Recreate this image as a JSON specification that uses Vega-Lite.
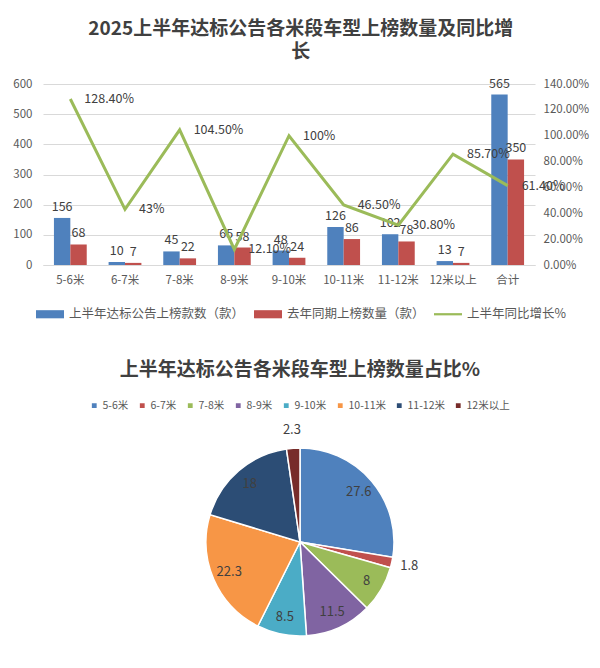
{
  "$schema": "https://vega.github.io/schema/vega-lite/v6.json",
  "padding": {"left": 12, "top": 19, "right": 5, "bottom": 5},
  "background": "#ffffff",
  "config": {
    "font": "Noto Sans CJK SC",
    "view": {"stroke": null},
    "axis": {"labelColor": "#595959", "labelFontSize": 11.5}
  },
  "spacing": 40,
  "resolve": {"scale": {"color": "independent"}, "legend": {"color": "independent"}},
  "vconcat": [
    {
      "width": 492,
      "height": 181,
      "title": {
        "text": ["2025上半年达标公告各米段车型上榜数量及同比增", "长"],
        "fontSize": 19,
        "fontWeight": "bold",
        "color": "#404040",
        "frame": "bounds",
        "anchor": "middle",
        "lineHeight": 23,
        "offset": 16
      },
      "data": {
        "values": [
          {"米段": "5-6米", "上半年达标公告上榜款数（款）": 156, "去年同期上榜数量（款）": 68, "yoy": 128.4, "yoyLabel": "128.40%"},
          {"米段": "6-7米", "上半年达标公告上榜款数（款）": 10, "去年同期上榜数量（款）": 7, "yoy": 43, "yoyLabel": "43%"},
          {"米段": "7-8米", "上半年达标公告上榜款数（款）": 45, "去年同期上榜数量（款）": 22, "yoy": 104.5, "yoyLabel": "104.50%"},
          {"米段": "8-9米", "上半年达标公告上榜款数（款）": 65, "去年同期上榜数量（款）": 58, "yoy": 12.1, "yoyLabel": "12.10%"},
          {"米段": "9-10米", "上半年达标公告上榜款数（款）": 48, "去年同期上榜数量（款）": 24, "yoy": 100, "yoyLabel": "100%"},
          {"米段": "10-11米", "上半年达标公告上榜款数（款）": 126, "去年同期上榜数量（款）": 86, "yoy": 46.5, "yoyLabel": "46.50%"},
          {"米段": "11-12米", "上半年达标公告上榜款数（款）": 102, "去年同期上榜数量（款）": 78, "yoy": 30.8, "yoyLabel": "30.80%"},
          {"米段": "12米以上", "上半年达标公告上榜款数（款）": 13, "去年同期上榜数量（款）": 7, "yoy": 85.7, "yoyLabel": "85.70%"},
          {"米段": "合计", "上半年达标公告上榜款数（款）": 565, "去年同期上榜数量（款）": 350, "yoy": 61.4, "yoyLabel": "61.40%"}
        ]
      },
      "encoding": {
        "x": {
          "field": "米段",
          "type": "nominal",
          "sort": null,
          "scale": {"paddingInner": 0.4, "paddingOuter": 0.2},
          "axis": {
            "title": null,
            "labelAngle": 0,
            "ticks": false,
            "domainColor": "#d9d9d9",
            "labelPadding": 9
          }
        }
      },
      "layer": [
        {
          "transform": [
            {"fold": ["上半年达标公告上榜款数（款）", "去年同期上榜数量（款）"], "as": ["系列", "数量"]}
          ],
          "encoding": {
            "xOffset": {
              "field": "系列",
              "type": "nominal",
              "sort": ["上半年达标公告上榜款数（款）", "去年同期上榜数量（款）"],
              "scale": {"paddingInner": 0, "paddingOuter": 0}
            },
            "y": {
              "field": "数量",
              "type": "quantitative",
              "scale": {"domain": [0, 600]},
              "axis": {
                "title": null,
                "values": [0, 100, 200, 300, 400, 500, 600],
                "ticks": false,
                "domain": false,
                "gridColor": "#d9d9d9",
                "labelPadding": 11
              }
            }
          },
          "layer": [
            {
              "mark": {"type": "bar"},
              "encoding": {
                "color": {
                  "field": "系列",
                  "type": "nominal",
                  "scale": {
                    "domain": ["上半年达标公告上榜款数（款）", "去年同期上榜数量（款）", "上半年同比增长%"],
                    "range": ["#4F81BD", "#C0504D", "#9BBB59"]
                  },
                  "legend": {
                    "title": null,
                    "orient": "none",
                    "legendX": -7,
                    "legendY": 216,
                    "direction": "horizontal",
                    "columns": 3,
                    "labelFontSize": 12.5,
                    "labelColor": "#595959",
                    "labelLimit": 300,
                    "columnPadding": 9,
                    "labelOffset": 5,
                    "symbolSize": 784,
                    "symbolStrokeWidth": 0,
                    "encode": {
                      "symbols": {
                        "update": {
                          "shape": {"signal": "datum.value === '上半年同比增长%' ? 'M-1,-0.08L1,-0.08L1,0.08L-1,0.08Z' : 'M-1,-0.29L1,-0.29L1,0.29L-1,0.29Z'"},
                          "fill": {"signal": "datum.value === '去年同期上榜数量（款）' ? '#C0504D' : datum.value === '上半年同比增长%' ? '#9BBB59' : '#4F81BD'"},
                          "opacity": {"value": 1},
                          "strokeWidth": {"value": 0}
                        }
                      }
                    }
                  }
                }
              }
            },
            {
              "mark": {"type": "text", "baseline": "bottom", "dy": -4, "fontSize": 12.5, "color": "#404040"},
              "encoding": {
                "text": {"field": "数量", "type": "quantitative"}
              }
            }
          ]
        },
        {
          "encoding": {
            "y": {
              "field": "yoy",
              "type": "quantitative",
              "scale": {"domain": [0, 140]},
              "axis": {
                "orient": "right",
                "title": null,
                "values": [0, 20, 40, 60, 80, 100, 120, 140],
                "labelExpr": "format(datum.value, '.2f') + '%'",
                "grid": false,
                "ticks": false,
                "domain": false,
                "labelPadding": 8
              }
            }
          },
          "layer": [
            {
              "mark": {"type": "line", "strokeWidth": 3},
              "encoding": {
                "color": {"datum": "上半年同比增长%"}
              }
            },
            {
              "mark": {"type": "text", "align": "left", "baseline": "middle", "dx": 14, "fontSize": 12.5, "color": "#404040"},
              "encoding": {
                "text": {"field": "yoyLabel", "type": "nominal"}
              }
            }
          ]
        }
      ],
      "resolve": {"scale": {"y": "independent"}}
    },
    {
      "width": 514,
      "height": 196,
      "title": {
        "text": "上半年达标公告各米段车型上榜数量占比%",
        "fontSize": 19,
        "fontWeight": "bold",
        "color": "#404040",
        "frame": "bounds",
        "anchor": "middle",
        "offset": 20
      },
      "data": {
        "values": [
          {"米段": "5-6米", "占比": 27.6},
          {"米段": "6-7米", "占比": 1.8},
          {"米段": "7-8米", "占比": 8},
          {"米段": "8-9米", "占比": 11.5},
          {"米段": "9-10米", "占比": 8.5},
          {"米段": "10-11米", "占比": 22.3},
          {"米段": "11-12米", "占比": 18},
          {"米段": "12米以上", "占比": 2.3}
        ]
      },
      "transform": [{"window": [{"op": "row_number", "as": "序号"}]}],
      "encoding": {
        "theta": {"field": "占比", "type": "quantitative", "stack": true},
        "order": {"field": "序号", "type": "quantitative"},
        "color": {
          "field": "米段",
          "type": "nominal",
          "sort": null,
          "scale": {
            "domain": ["5-6米", "6-7米", "7-8米", "8-9米", "9-10米", "10-11米", "11-12米", "12米以上"],
            "range": ["#4F81BD", "#C0504D", "#9BBB59", "#8064A2", "#4BACC6", "#F79646", "#2C4D75", "#772C2A"]
          },
          "legend": {
            "title": null,
            "orient": "none",
            "legendX": 46,
            "legendY": -44,
            "direction": "horizontal",
            "columns": 8,
            "symbolType": "square",
            "symbolSize": 40,
            "labelFontSize": 10.5,
            "labelColor": "#595959",
            "columnPadding": 7,
            "labelOffset": 3
          }
        }
      },
      "layer": [
        {
          "mark": {"type": "arc", "outerRadius": 94, "stroke": "#ffffff", "strokeWidth": 1.5}
        },
        {
          "mark": {"type": "text", "fontSize": 13, "radius": 77},
          "encoding": {
            "color": {"value": "#404040"},
            "text": {"condition": {"test": "datum['占比'] < 5", "value": ""}, "field": "占比", "type": "nominal"}
          }
        },
        {
          "mark": {"type": "text", "fontSize": 13, "radius": 112},
          "encoding": {
            "color": {"value": "#404040"},
            "text": {"condition": {"test": "datum['占比'] >= 5", "value": ""}, "field": "占比", "type": "nominal"}
          }
        }
      ]
    }
  ]
}
